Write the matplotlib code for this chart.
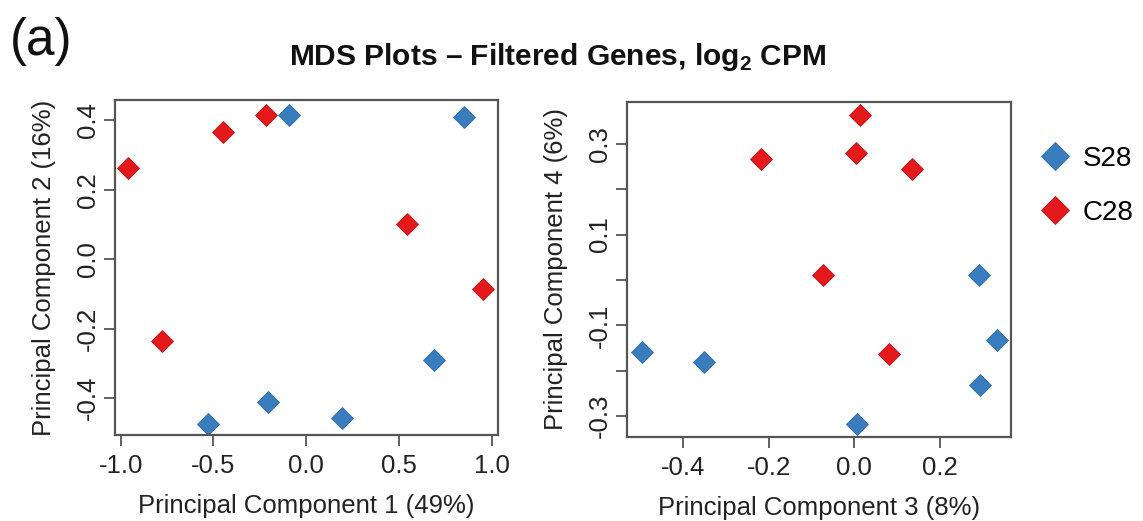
import matplotlib
matplotlib.use("Agg")
import matplotlib.pyplot as plt
from matplotlib.lines import Line2D

# ---- data ----
groups = ["S28", "C28"]
colors = {"S28": "#3A7DBE", "C28": "#E3191C"}
edges = {"S28": "#2F6CA6", "C28": "#C01215"}

pc1_s28 = [-0.093, 0.854, 0.692, -0.207, -0.527, 0.196]
pc2_s28 = [0.414, 0.410, -0.291, -0.412, -0.473, -0.458]
pc1_c28 = [-0.962, -0.449, -0.217, 0.547, 0.956, -0.778]
pc2_c28 = [0.263, 0.366, 0.416, 0.101, -0.087, -0.236]

pc3_s28 = [0.290, 0.332, -0.496, -0.351, 0.293, 0.006]
pc4_s28 = [0.010, -0.132, -0.159, -0.181, -0.231, -0.318]
pc3_c28 = [0.013, -0.218, 0.003, 0.135, -0.074, 0.081]
pc4_c28 = [0.364, 0.267, 0.279, 0.245, 0.011, -0.163]

xticks_1 = [-1.0, -0.5, 0.0, 0.5, 1.0]
yticks_1 = [-0.4, -0.2, 0.0, 0.2, 0.4]
xticks_2 = [-0.4, -0.2, 0.0, 0.2]
yticks_2 = [-0.3, -0.2, -0.1, 0.0, 0.1, 0.2, 0.3]
ylabels_2 = ["-0.3", "", "-0.1", "", "0.1", "", "0.3"]

title = r"MDS Plots – Filtered Genes, log$_{\mathbf{2}}$ CPM"
xlabel_1 = "Principal Component 1 (49%)"
ylabel_1 = "Principal Component 2 (16%)"
xlabel_2 = "Principal Component 3 (8%)"
ylabel_2 = "Principal Component 4 (6%)"

# ---- style ----
plt.rcParams["font.family"] = ["Liberation Sans", "DejaVu Sans"]
plt.rcParams["mathtext.fontset"] = "custom"
plt.rcParams["mathtext.rm"] = "Liberation Sans"
plt.rcParams["mathtext.bf"] = "Liberation Sans:bold"

W, H = 1143, 521
fig = plt.figure(figsize=(W / 100, H / 100), dpi=100)

spine_col = "#555555"
txt_col = "#222222"
fs = 18.5
ms = 11


def style_ax(ax):
    for s in ax.spines.values():
        s.set_color(spine_col)
        s.set_linewidth(1.6)
    ax.tick_params(direction="out", length=8, width=1.3, color=spine_col,
                   labelsize=fs, labelcolor=txt_col)
    ax.tick_params(axis="x", pad=6)
    ax.tick_params(axis="y", labelrotation=90, pad=3)
    for lab in ax.get_yticklabels():
        lab.set_va("center")


def px_axes(x0, y0, x1, y1):
    return fig.add_axes([x0 / W, 1 - y1 / H, (x1 - x0) / W, (y1 - y0) / H])


ax1 = px_axes(115, 100, 498, 435)
ax2 = px_axes(627, 102, 1011, 437)

for ax, xs, ys, xc, yc in [
    (ax1, pc1_s28, pc2_s28, pc1_c28, pc2_c28),
    (ax2, pc3_s28, pc4_s28, pc3_c28, pc4_c28),
]:
    ax.plot(xs, ys, "D", ms=ms, color=colors["S28"], mec=edges["S28"], mew=0.6, ls="none")
    ax.plot(xc, yc, "D", ms=ms, color=colors["C28"], mec=edges["C28"], mew=0.6, ls="none")

ax1.set_xlim(-1.03, 1.035)
ax1.set_ylim(-0.506, 0.458)
ax1.set_xticks(xticks_1)
ax1.set_xticklabels([f"{v:.1f}" for v in xticks_1])
ax1.set_yticks(yticks_1)
ax1.set_yticklabels([f"{v:.1f}" for v in yticks_1])
ax1.set_xlabel(xlabel_1, fontsize=fs, color=txt_col, labelpad=11)
ax1.set_ylabel(ylabel_1, fontsize=fs, color=txt_col, labelpad=14)

ax2.set_xlim(-0.530, 0.365)
ax2.set_ylim(-0.346, 0.392)
ax2.set_xticks(xticks_2)
ax2.set_xticklabels([f"{v:.1f}" for v in xticks_2])
ax2.set_yticks(yticks_2)
ax2.set_yticklabels(ylabels_2)
ax2.set_xlabel(xlabel_2, fontsize=fs, color=txt_col, labelpad=11)
ax2.set_ylabel(ylabel_2, fontsize=fs, color=txt_col, labelpad=14)

style_ax(ax1)
style_ax(ax2)

fig.text(558 / W, 1 - 57 / H, title, fontsize=21.5, fontweight="bold",
         ha="center", va="center", color="#111111")
fig.text(41 / W, 1 - 41 / H, "(a)", fontsize=37, ha="center", va="center",
         color="#111111")

handles = [
    Line2D([], [], marker="D", ls="none", ms=ms * 1.25, color=colors[g],
           mec=edges[g], mew=0.6)
    for g in groups
]
fig.legend(handles, groups, loc="upper left", bbox_to_anchor=(1030 / W, 1 - 135 / H),
           frameon=False, fontsize=20, handlelength=1.0, handletextpad=0.5,
           labelspacing=1.0, borderaxespad=0)

fig.savefig("out.png", dpi=100)
